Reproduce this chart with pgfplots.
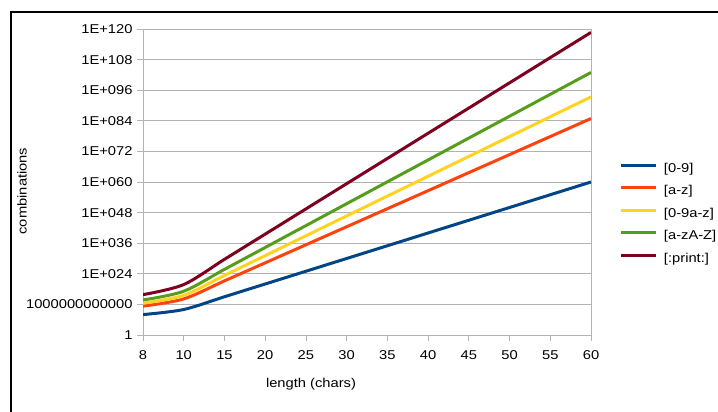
\documentclass[border=0pt]{standalone}
\usepackage{pgfplots}
\pgfplotsset{compat=1.18}
\usepackage{fontspec}
\setmainfont{Liberation Sans}[FakeStretch=1.15]
\definecolor{c1}{HTML}{004586}
\definecolor{c2}{HTML}{FF420E}
\definecolor{c3}{HTML}{FFD320}
\definecolor{c4}{HTML}{579D1C}
\definecolor{c5}{HTML}{7E0021}
\definecolor{gridc}{HTML}{B3B3B3}
\begin{document}
\fontsize{12.8bp}{15bp}\selectfont
\begin{tikzpicture}
\useasboundingbox (0bp,0bp) rectangle (718bp,412bp);
\draw[line width=2.5bp] (11bp,-5bp) -- (11bp,400bp) -- (725bp,400bp);
\begin{axis}[
  at={(143bp,77bp)}, anchor=south west,
  scale only axis, width=448bp, height=306bp,
  ymode=log, ymin=1, ymax=1e120,
  xmin=0, xmax=11,
  xtick={0,1,2,3,4,5,6,7,8,9,10,11},
  xticklabels={8,10,15,20,25,30,35,40,45,50,55,60},
  ytick={1,1e12,1e24,1e36,1e48,1e60,1e72,1e84,1e96,1e108,1e120},
  yticklabels={1,1000000000000,1E+024,1E+036,1E+048,1E+060,1E+072,1E+084,1E+096,1E+108,1E+120},
  minor ytick={},
  xtick pos=bottom, ytick pos=left,
  tick align=outside, major tick length=6bp,
  tick style={gridc, line width=0.8bp},
  axis line style={gridc, line width=0.8bp},
  ymajorgrids, major grid style={gridc, line width=0.8bp},
  ticklabel style={font=\fontsize{12.8bp}{15bp}\selectfont},
  xticklabel style={yshift=-5bp},
  legend cell align=left,
  legend image code/.code={\draw[#1] (0bp,4bp) -- (35bp,4bp);},
  legend style={at={(1.0647,0.562)}, anchor=north west, draw=none, fill=none,
    inner sep=0pt, outer sep=0pt, row sep=10.5bp,
    font=\fontsize{12.8bp}{15bp}\selectfont,
    nodes={inner sep=0pt, text height=9bp, text depth=3bp},
    /tikz/every odd column/.append style={column sep=6bp}},
  every axis plot/.append style={line width=3bp, smooth, tension=0.5},
]
\addplot[c1] coordinates {(0,1e8) (1,1e10) (2,1e15) (3,1e20) (4,1e25) (5,1e30) (6,1e35) (7,1e40) (8,1e45) (9,1e50) (10,1e55) (11,1e60)};
\addlegendentry{[0-9]}
\addplot[c2] coordinates {(0,2.09e11) (1,1.41e14) (2,1.68e21) (3,1.99e28) (4,2.37e35) (5,2.81e42) (6,3.34e49) (7,3.97e56) (8,4.72e63) (9,5.61e70) (10,6.66e77) (11,7.91e84)};
\addlegendentry{[a-z]}
\addplot[c3] coordinates {(0,2.82e12) (1,3.66e15) (2,2.21e23) (3,1.34e31) (4,8.08e38) (5,4.89e46) (6,2.96e54) (7,1.79e62) (8,1.08e70) (9,6.53e77) (10,3.95e85) (11,2.39e93)};
\addlegendentry{[0-9a-z]}
\addplot[c4] coordinates {(0,5.35e13) (1,1.45e17) (2,5.50e25) (3,2.09e34) (4,7.95e42) (5,3.02e51) (6,1.15e60) (7,4.37e68) (8,1.66e77) (9,6.31e85) (10,2.40e94) (11,9.13e102)};
\addlegendentry{[a-zA-Z]}
\addplot[c5] coordinates {(0,6.63e15) (1,5.99e19) (2,4.63e29) (3,3.58e39) (4,2.77e49) (5,2.15e59) (6,1.66e69) (7,1.29e79) (8,9.94e88) (9,7.69e98) (10,5.95e108) (11,4.61e118)};
\addlegendentry{[:print:]}
\end{axis}
\node at (311bp,28bp) {length (chars)};
\node[rotate=90] at (22bp,221bp) {combinations};
\end{tikzpicture}
\end{document}
